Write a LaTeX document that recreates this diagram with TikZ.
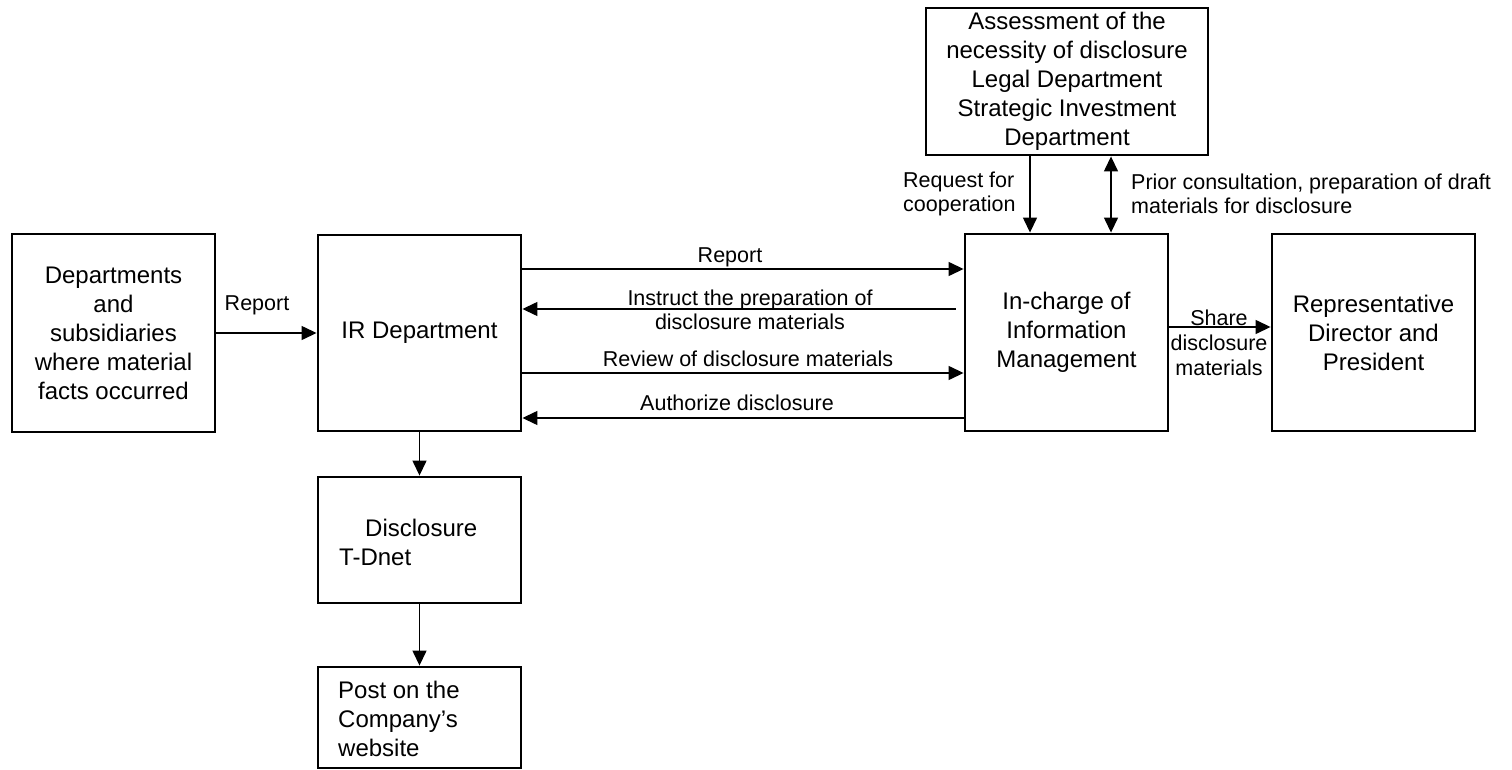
\documentclass[tikz,border=0pt]{standalone}
\usepackage{fontspec}
\setmainfont{Liberation Sans}
\usetikzlibrary{arrows.meta,calc}
\begin{document}
\begin{tikzpicture}[x=1pt,y=-1pt,
  box/.style={draw, line width=2.9pt, inner sep=0pt, align=center, font=\fontsize{24}{29}\selectfont},
  btext/.style={inner sep=0pt, align=left, anchor=west, font=\fontsize{24}{29}\selectfont},
  lbl/.style={inner sep=0pt, align=center, font=\fontsize{21.5}{24}\selectfont},
  arr/.style={line width=1.4pt, -{Triangle[length=15pt,width=14pt]}},
  darr/.style={line width=1.4pt, {Triangle[length=15pt,width=14pt]}-{Triangle[length=15pt,width=14pt]}}]
\useasboundingbox (0,0) rectangle (1512,770);

% boxes
\node[box, minimum width=203pt, minimum height=198pt] (dept) at (113.5,333)
  {Departments\\and\\subsidiaries\\where material\\facts occurred};
\node[box, minimum width=203pt, minimum height=196pt] (ir) at (419.5,333) {IR Department};
\node[box, minimum width=203pt, minimum height=126pt] (disc) at (419.5,540) {};
\node[btext] (disctext) at (339,542) {\hspace*{26pt}Disclosure\\T-Dnet};
\node[box, minimum width=203pt, minimum height=101pt] (post) at (419.5,717.5) {};
\node[btext] (posttext) at (338,719) {Post on the\\Company’s\\website};
\node[box, minimum width=282pt, minimum height=147pt] (assess) at (1067,81.5)
  {Assessment of the\\necessity of disclosure\\Legal Department\\Strategic Investment\\Department};
\node[box, minimum width=203pt, minimum height=197pt] (inch) at (1066.5,332.5)
  {In-charge of\\Information\\Management};
\node[box, minimum width=203pt, minimum height=197pt] (rep) at (1373.5,332.5)
  {Representative\\Director and\\President};

% helper coordinates
\coordinate (yrep) at (0,269);
\coordinate (yins) at (0,309);
\coordinate (yrev) at (0,373);
\coordinate (yaut) at (0,418);
\coordinate (ysh) at (0,327);
\coordinate (xreq) at (1030,0);
\coordinate (xpri) at (1111,0);

% connectors
\draw[arr] (dept.east) -- (ir.west);
\node[lbl] (l1) at (257,305) {Report};

\draw[arr] (ir.east |- yrep) -- (inch.west |- yrep);
\node[lbl] (l2) at (730,257) {Report};

\draw[arr] ([xshift=-8pt]inch.west |- yins) -- (ir.east |- yins);
\node[lbl] (l3) at (750,310) {Instruct the preparation of\\disclosure materials};

\draw[arr] (ir.east |- yrev) -- (inch.west |- yrev);
\node[lbl] (l4) at (748,359) {Review of disclosure materials};

\draw[arr] (inch.west |- yaut) -- (ir.east |- yaut);
\node[lbl] (l5) at (737,403) {Authorize disclosure};

\draw[arr] (inch.east |- ysh) -- (rep.west |- ysh);
\node[lbl, font=\fontsize{21.5}{25}\selectfont] (l6) at (1219,343) {Share\\disclosure\\materials};

\draw[arr] (assess.south -| xreq) -- (inch.north -| xreq);
\node[lbl, align=left, anchor=west] (l7) at (903,194) {Request for\\cooperation};

\draw[darr] (assess.south -| xpri) -- (inch.north -| xpri);
\node[lbl, align=left, anchor=west, font=\fontsize{21.5}{23.5}\selectfont] (l8) at (1131,194)
  {Prior consultation, preparation of draft\\materials for disclosure};

\draw[arr] (ir.south) -- (disc.north);
\draw[arr] (disc.south) -- (post.north);
\end{tikzpicture}
\end{document}
